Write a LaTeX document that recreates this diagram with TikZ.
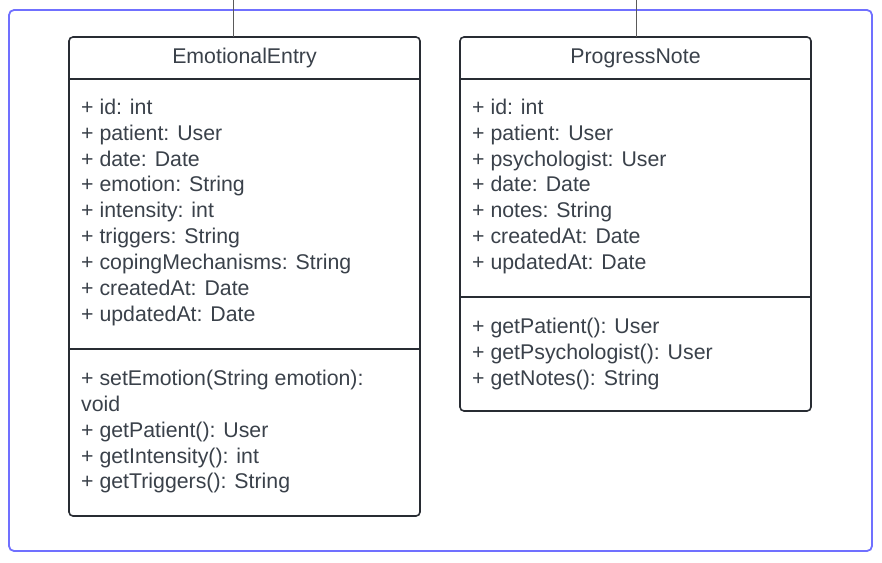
\documentclass[tikz,border=0pt]{standalone}
\usepackage{fontspec}
\setmainfont{Liberation Sans}
\definecolor{frameblue}{RGB}{112,112,255}
\definecolor{boxline}{RGB}{40,44,51}
\definecolor{txt}{RGB}{58,65,74}
\definecolor{conn}{RGB}{90,90,90}
\begin{document}
\begin{tikzpicture}[x=1pt,y=-1pt,
  classbox/.style={draw=boxline,line width=1.6pt,rounded corners=4pt,fill=white},
  sepline/.style={draw=boxline,line width=1.6pt},
  frame/.style={draw=frameblue,line width=1.8pt,rounded corners=5pt},
  conline/.style={draw=conn,line width=0.9pt},
  member/.style={anchor=base west,inner sep=0pt,text=txt,font=\fontsize{21.3}{25.85}\selectfont},
  title/.style={anchor=base,inner sep=0pt,text=txt,font=\fontsize{21.3}{25.85}\selectfont}]
\useasboundingbox (0,0) rectangle (882,562);
\draw[frame] (9,10) rectangle (872,551);
% EmotionalEntry
\draw[classbox] (69,37) rectangle (420,516);
\coordinate (eeL1) at (69,79); \coordinate (eeR1) at (420,79);
\coordinate (eeL2) at (69,349); \coordinate (eeR2) at (420,349);
\draw[sepline] (eeL1) -- (eeR1);
\draw[sepline] (eeL2) -- (eeR2);
\coordinate (eetopA) at (233,0); \coordinate (eetopB) at (233,37);
\draw[conline] (eetopA) -- (eetopB);
\node[title] (eeT) at (244.5,63.3) {EmotionalEntry};
\node[member] (ea1) at (81,114.3) {+ id: int};
\node[member] (ea2) at (81,140.15) {+ patient: User};
\node[member] (ea3) at (81,166) {+ date: Date};
\node[member] (ea4) at (81,191.85) {+ emotion: String};
\node[member] (ea5) at (81,217.7) {+ intensity: int};
\node[member] (ea6) at (81,243.55) {+ triggers: String};
\node[member] (ea7) at (81,269.4) {+ copingMechanisms: String};
\node[member] (ea8) at (81,295.25) {+ createdAt: Date};
\node[member] (ea9) at (81,321.1) {+ updatedAt: Date};
\node[member] (em1) at (81,385.5) {+ setEmotion(String emotion):};
\node[member] (em2) at (81,411.35) {void};
\node[member] (em3) at (81,437.2) {+ getPatient(): User};
\node[member] (em4) at (81,463.05) {+ getIntensity(): int};
\node[member] (em5) at (81,488.9) {+ getTriggers(): String};
% ProgressNote
\draw[classbox] (460,37) rectangle (811,411);
\coordinate (pnL1) at (460,79); \coordinate (pnR1) at (811,79);
\coordinate (pnL2) at (460,297); \coordinate (pnR2) at (811,297);
\draw[sepline] (pnL1) -- (pnR1);
\draw[sepline] (pnL2) -- (pnR2);
\coordinate (pntopA) at (636,0); \coordinate (pntopB) at (636,37);
\draw[conline] (pntopA) -- (pntopB);
\node[title] (pnT) at (635.5,63.3) {ProgressNote};
\node[member] (pa1) at (472,114.3) {+ id: int};
\node[member] (pa2) at (472,140.15) {+ patient: User};
\node[member] (pa3) at (472,166) {+ psychologist: User};
\node[member] (pa4) at (472,191.85) {+ date: Date};
\node[member] (pa5) at (472,217.7) {+ notes: String};
\node[member] (pa6) at (472,243.55) {+ createdAt: Date};
\node[member] (pa7) at (472,269.4) {+ updatedAt: Date};
\node[member] (pm1) at (472,333.3) {+ getPatient(): User};
\node[member] (pm2) at (472,359.15) {+ getPsychologist(): User};
\node[member] (pm3) at (472,385) {+ getNotes(): String};
\end{tikzpicture}
\end{document}
